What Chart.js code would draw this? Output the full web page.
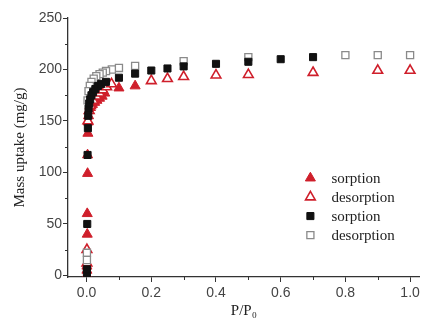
<!DOCTYPE html>
<html>
<head>
<meta charset="utf-8">
<script src="https://cdn.jsdelivr.net/npm/chart.js@4/dist/chart.umd.min.js"></script>
<style>
  html, body { margin: 0; padding: 0; background: #ffffff; }
  #wrap { width: 427px; height: 320px; }
</style>
</head>
<body>
<div id="wrap"><canvas id="c" width="427" height="320"></canvas></div>
<script>
// ---- data ----
const seriesLabels = ['sorption', 'desorption', 'sorption', 'desorption'];

const redSorpP = [0.001, 0.001, 0.001, 0.002, 0.002, 0.003, 0.003, 0.004, 0.005, 0.006, 0.008, 0.012, 0.018, 0.025, 0.032, 0.04, 0.048, 0.056, 0.1, 0.15];
const redSorpV = [0, 5, 9, 40, 60, 99, 117, 138, 149, 155, 160, 163, 166, 168, 170, 172, 174, 177, 182, 184];

const redDesP = [0.001, 0.001, 0.004, 0.008, 0.012, 0.02, 0.03, 0.04, 0.05, 0.062, 0.077, 0.2, 0.25, 0.3, 0.4, 0.5, 0.7, 0.9, 1.0];
const redDesV = [12, 25, 150, 160, 165, 170, 174, 177, 180, 183, 186, 189, 191, 193, 194.5, 195, 197, 199, 199];

const blackSorpP = [0.001, 0.001, 0.002, 0.003, 0.004, 0.005, 0.006, 0.008, 0.011, 0.015, 0.02, 0.027, 0.035, 0.045, 0.06, 0.1, 0.15, 0.2, 0.25, 0.3, 0.4, 0.5, 0.6, 0.7];
const blackSorpV = [2, 6, 50, 117, 143, 155, 162, 167, 171, 175, 178, 181, 184, 186, 188, 192, 196, 199, 201, 203, 205.5, 207.5, 210, 212];

const blackDesP = [1.0, 0.9, 0.8, 0.5, 0.3, 0.15, 0.1, 0.078, 0.06, 0.05, 0.04, 0.03, 0.022, 0.015, 0.01, 0.006, 0.003, 0.001, 0.001];
const blackDesV = [214, 214, 214, 212, 208, 203.5, 201.5, 200, 198.5, 197, 195.5, 193.5, 191, 188, 184, 179, 170, 22, 15];

const xTickValues = [0, 0.2, 0.4, 0.6, 0.8, 1.0];
const xMinorValues = [0.1, 0.3, 0.5, 0.7, 0.9];
const yTickValues = [0, 50, 100, 150, 200, 250];
const yMinorValues = [25, 75, 125, 175, 225];

const xTitle = 'P/P\u2080';
const yTitle = 'Mass uptake (mg/g)';

// ---- build ----
const toPts = (xs, ys) => xs.map((x, i) => ({ x: x, y: ys[i] }));
const RED = '#cf1f2b';
const SANS = "'Liberation Sans', Arial, sans-serif";
const SERIF = "'Liberation Serif', 'Times New Roman', serif";
const AXIS = '#333333';

const datasets = [
  { label: seriesLabels[0], data: toPts(redSorpP, redSorpV), pointStyle: 'triangle', pointRadius: 5.8,
    backgroundColor: RED, borderColor: RED, borderWidth: 1, order: 4 },
  { label: seriesLabels[1], data: toPts(redDesP, redDesV), pointStyle: 'triangle', pointRadius: 5.6,
    backgroundColor: '#ffffff', borderColor: RED, borderWidth: 1.6, order: 3 },
  { label: seriesLabels[2], data: toPts(blackSorpP, blackSorpV), pointStyle: 'rect', pointRadius: 5,
    backgroundColor: '#111111', borderColor: '#111111', borderWidth: 1, order: 1 },
  { label: seriesLabels[3], data: toPts(blackDesP, blackDesV), pointStyle: 'rect', pointRadius: 5,
    backgroundColor: '#ffffff', borderColor: '#8a8a8a', borderWidth: 1.3, order: 2 }
];

const minorTicks = {
  id: 'minorTicks',
  afterDraw(chart) {
    const ctx = chart.ctx, xs = chart.scales.x, ys = chart.scales.y;
    ctx.save();
    ctx.strokeStyle = AXIS; ctx.lineWidth = 1;
    xMinorValues.forEach(v => {
      const px = Math.round(xs.getPixelForValue(v)) + 0.5;
      ctx.beginPath(); ctx.moveTo(px, xs.top); ctx.lineTo(px, xs.top + 3); ctx.stroke();
    });
    yMinorValues.forEach(v => {
      const py = Math.round(ys.getPixelForValue(v)) + 0.5;
      ctx.beginPath(); ctx.moveTo(ys.right, py); ctx.lineTo(ys.right - 3, py); ctx.stroke();
    });
    ctx.restore();
  }
};

const insideLegend = {
  id: 'insideLegend',
  afterDraw(chart) {
    const ctx = chart.ctx, ca = chart.chartArea;
    const mx = ca.left + (ca.right - ca.left) * 0.689;
    const tx = mx + 21;
    const y0 = ca.top + (ca.bottom - ca.top) * 0.618;
    const row = 19;
    ctx.save();
    ctx.font = '15px ' + SERIF;
    ctx.textBaseline = 'middle';
    ctx.textAlign = 'left';
    chart.data.datasets.forEach((ds, i) => {
      const y = y0 + i * row;
      ctx.fillStyle = ds.backgroundColor;
      ctx.strokeStyle = ds.borderColor;
      ctx.lineWidth = ds.borderWidth;
      const opts = { pointStyle: ds.pointStyle, rotation: 0, radius: ds.pointRadius, borderWidth: ds.borderWidth };
      if (Chart.helpers && Chart.helpers.drawPoint) {
        Chart.helpers.drawPoint(ctx, opts, mx, y);
      }
      ctx.fillStyle = '#222222';
      ctx.fillText(ds.label, tx, y + 1);
    });
    ctx.restore();
  }
};

new Chart(document.getElementById('c'), {
  type: 'scatter',
  data: { datasets: datasets },
  plugins: [minorTicks, insideLegend],
  options: {
    responsive: false,
    animation: false,
    layout: { padding: { left: 0, right: 5, top: 18, bottom: 0 } },
    plugins: { legend: { display: false }, tooltip: { enabled: false } },
    scales: {
      x: {
        type: 'linear', min: -0.0575, max: 1.03,
        afterBuildTicks: s => { s.ticks = xTickValues.map(v => ({ value: v })); },
        afterFit: s => { s.height = 43; },
        ticks: { includeBounds: false, callback: v => Number(v).toFixed(1), font: { family: SANS, size: 14 }, color: '#444444', padding: 3, maxRotation: 0 },
        grid: { drawOnChartArea: false, drawTicks: true, tickLength: 5, color: AXIS, tickWidth: 1 },
        border: { display: true, color: AXIS, width: 1.3 },
        title: { display: true, text: xTitle, font: { family: SERIF, size: 15 }, color: '#222222', padding: { top: 0, bottom: 0 } }
      },
      y: {
        type: 'linear', min: -1.5, max: 250,
        afterBuildTicks: s => { s.ticks = yTickValues.map(v => ({ value: v })); },
        afterFit: s => { s.width = 68; },
        ticks: { includeBounds: false, font: { family: SANS, size: 14 }, color: '#444444', padding: 1 },
        grid: { drawOnChartArea: false, drawTicks: true, tickLength: 5, color: AXIS, tickWidth: 1 },
        border: { display: true, color: AXIS, width: 1.3 },
        title: { display: true, text: yTitle, font: { family: SERIF, size: 15 }, color: '#222222', padding: { top: 11, bottom: 0 } }
      }
    }
  }
});
</script>
</body>
</html>
